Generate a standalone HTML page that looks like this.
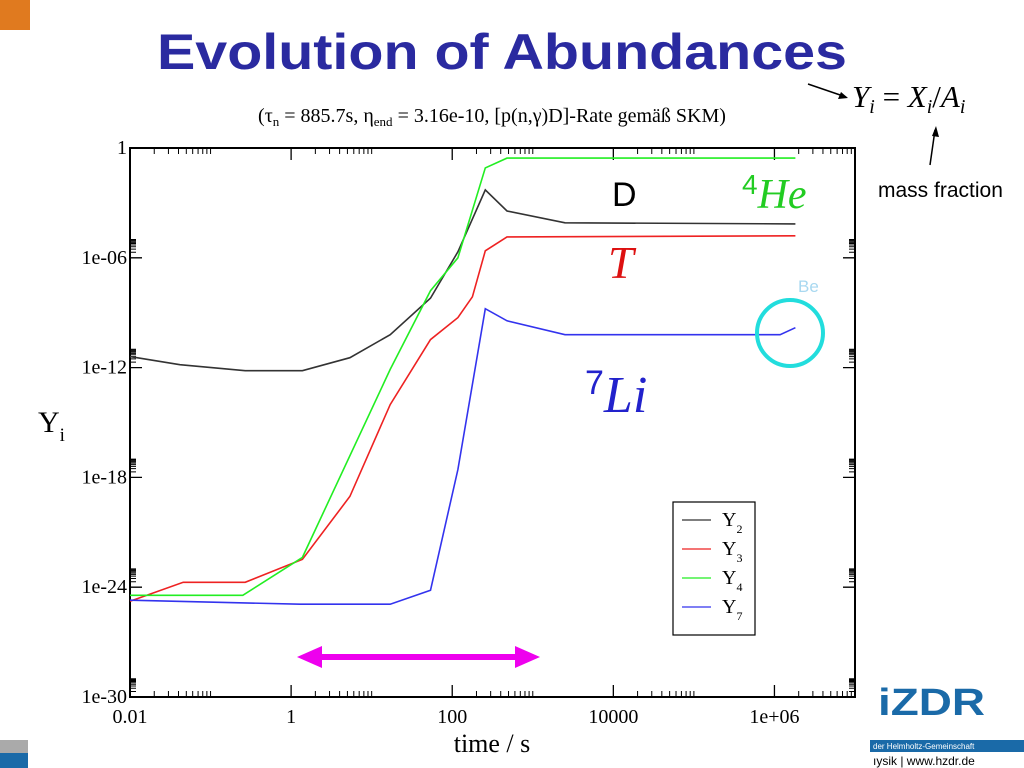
<!DOCTYPE html>
<html><head><meta charset="utf-8"><style>
body{margin:0;background:#fff;}
svg{display:block;font-family:"Liberation Serif",serif;}
</style></head><body>
<svg width="1024" height="768" viewBox="0 0 1024 768">
<rect x="0" y="0" width="30" height="30" fill="#e07a1f"/>
<text x="157" y="69" textLength="690" lengthAdjust="spacingAndGlyphs" font-family="Liberation Sans,sans-serif" font-weight="bold" font-size="50" fill="#2a2aa0">Evolution of Abundances</text>
<text x="492" y="122" text-anchor="middle" font-size="20">(τ<tspan font-size="13" dy="4">n</tspan><tspan dy="-4"> = 885.7s, η</tspan><tspan font-size="13" dy="4">end</tspan><tspan dy="-4"> = 3.16e-10,  [p(n,γ)D]-Rate gemäß SKM)</tspan></text>
<g>
<text x="852" y="107" font-size="31" font-style="italic">Y<tspan font-size="20" dy="6">i</tspan><tspan dy="-6" font-style="normal"> = </tspan>X<tspan font-size="20" dy="6">i</tspan><tspan dy="-6" font-style="normal">/</tspan>A<tspan font-size="20" dy="6">i</tspan></text>
<line x1="808" y1="84" x2="846" y2="97" stroke="#000" stroke-width="1.5"/><polygon points="848,98 838,99 841,92" fill="#000"/>
<line x1="930" y1="165" x2="935" y2="130" stroke="#000" stroke-width="1.5"/><polygon points="936,126 939,137 932,136" fill="#000"/>
<text x="878" y="197" font-family="Liberation Sans,sans-serif" font-size="21">mass fraction</text>
</g>
<g id="plot"></g>
<text x="612" y="206" font-family="Liberation Sans,sans-serif" font-size="34">D</text>
<text x="742" y="208" font-size="42" font-style="italic" fill="#22cc22"><tspan font-size="28" dy="-14" font-style="normal" font-family="Liberation Sans,sans-serif">4</tspan><tspan dy="14">He</tspan></text>
<text x="608" y="278" font-size="46" font-style="italic" fill="#dd1111">T</text>
<text x="585" y="412" font-size="52" font-style="italic" fill="#2222cc"><tspan font-size="34" dy="-18" font-style="normal" font-family="Liberation Sans,sans-serif">7</tspan><tspan dy="18">Li</tspan></text>
<text x="798" y="292" font-family="Liberation Sans,sans-serif" font-size="17" fill="#a8d8f0">Be</text>
<circle cx="790" cy="333" r="33" fill="none" stroke="#22dddd" stroke-width="4"/>
<g>
<line x1="315" y1="657" x2="522" y2="657" stroke="#ee00ee" stroke-width="6"/>
<polygon points="297,657 322,646 322,668" fill="#ee00ee"/><polygon points="540,657 515,646 515,668" fill="#ee00ee"/>
</g>
<text x="38" y="432" font-size="30">Y<tspan font-size="19" dy="9">i</tspan></text>
<text x="492" y="752" text-anchor="middle" font-size="26">time / s</text>
<rect x="0" y="740" width="28" height="13" fill="#aaa"/>
<rect x="0" y="753" width="28" height="15" fill="#1a6aa8"/>
<text x="878" y="715" textLength="107" lengthAdjust="spacingAndGlyphs" font-family="Liberation Sans,sans-serif" font-weight="bold" font-size="38" fill="#1a6aa8">iZDR</text>
<rect x="870" y="740" width="154" height="12" fill="#1a6aa8"/>
<text x="873" y="749" font-family="Liberation Sans,sans-serif" font-size="8" fill="#fff">der Helmholtz-Gemeinschaft</text>
<text x="873" y="765" font-family="Liberation Sans,sans-serif" font-size="12" fill="#000">ıysik | www.hzdr.de</text>
</svg>
<script>
const logT2=[-2,-1.38,-0.57,0.14,0.73,1.23,1.73,2.07,2.41,2.68,3.4,6.26];
const logY2=[-11.4,-11.84,-12.17,-12.17,-11.46,-10.2,-8.2,-5.67,-2.29,-3.44,-4.09,-4.15];
const logT3=[-2,-1.34,-0.57,0.14,0.73,1.23,1.73,2.07,2.25,2.41,2.68,6.26];
const logY3=[-24.77,-23.73,-23.73,-22.48,-19.04,-14.02,-10.47,-9.27,-8.13,-5.62,-4.86,-4.8];
const logT4=[-2,-0.6,0.14,1.23,1.73,2.07,2.41,2.68,6.26];
const logY4=[-24.44,-24.44,-22.37,-12.1,-7.8,-6.0,-1.09,-0.55,-0.55];
const logT7=[-2,0.11,1.23,1.73,2.07,2.41,2.68,3.4,6.07,6.26];
const logY7=[-24.71,-24.93,-24.93,-24.17,-17.57,-8.78,-9.44,-10.2,-10.2,-9.82];
const xTickLabels=["0.01","1","100","10000","1e+06"];
const yTickLabels=["1","1e-06","1e-12","1e-18","1e-24","1e-30"];
const seriesNames=["Y2","Y3","Y4","Y7"];
const seriesColors=["#333","#ee2222","#22ee22","#3333ee"];

const L=130,R=855,T=148,B=697,XMIN=-2,XMAX=7,YMIN=-30,YMAX=0;
const NS="http://www.w3.org/2000/svg";
const sx=v=>L+(v-XMIN)/(XMAX-XMIN)*(R-L);
const sy=v=>T+(YMAX-v)/(YMAX-YMIN)*(B-T);
const g=document.getElementById('plot');
function mk(tag,at){const e=document.createElementNS(NS,tag);for(const k in at)e.setAttribute(k,at[k]);g.appendChild(e);return e;}
let e=mk('rect',{x:L,y:T,width:R-L,height:B-T,fill:'none',stroke:'#000','stroke-width':2});


for(let d=XMIN;d<=XMAX;d+=2){
  const x=sx(d);
  e=mk('path',{d:`M${x},${B}v-12M${x},${T}v12`,stroke:'#000','stroke-width':1.3});
  
  
  for(let k=2;k<=10;k++){const xm=sx(d+Math.log10(k));if(xm>R)break;
    e=mk('path',{d:`M${xm},${B}v-6M${xm},${T}v6`,stroke:'#000','stroke-width':1});
    
    }
}
xTickLabels.forEach((t,i)=>{e=mk('text',{x:sx(XMIN+2*i),y:B+26,'text-anchor':'middle','font-size':20});e.textContent=t;
  
  });
for(let d=YMIN;d<=YMAX;d+=6){
  const y=sy(d);
  e=mk('path',{d:`M${L},${y}h12M${R},${y}h-12`,stroke:'#000','stroke-width':1.3});
  
  
  for(let k=2;k<=10;k++){const ym=sy(d+Math.log10(k));if(ym<T)break;
    e=mk('path',{d:`M${L},${ym}h6M${R},${ym}h-6`,stroke:'#000','stroke-width':1});
    
    }
}
yTickLabels.forEach((t,i)=>{e=mk('text',{x:L-3,y:sy(-6*i)+6,'text-anchor':'end','font-size':20});e.textContent=t;
  
  });
[[logT2,logY2],[logT3,logY3],[logT4,logY4],[logT7,logY7]].forEach(([xs,ys],i)=>{
  const pts=xs.map((v,j)=>sx(v).toFixed(1)+','+sy(ys[j]).toFixed(1)).join(' ');
  e=mk('polyline',{points:pts,fill:'none',stroke:seriesColors[i],'stroke-width':1.6});
  
  
});
e=mk('rect',{x:673,y:502,width:82,height:133,fill:'#fff',stroke:'#000','stroke-width':1.2});


seriesNames.forEach((n,i)=>{
  const y=520+i*29;
  e=mk('line',{x1:682,x2:711,y1:y,y2:y,stroke:seriesColors[i],'stroke-width':1.3});
  
  
  e=mk('text',{x:722,y:y+6,'font-size':20});
  e.innerHTML=n[0]+'<tspan font-size="12" dy="7">'+n.slice(1)+'</tspan>';
  
  
});
</script>
</body></html>
